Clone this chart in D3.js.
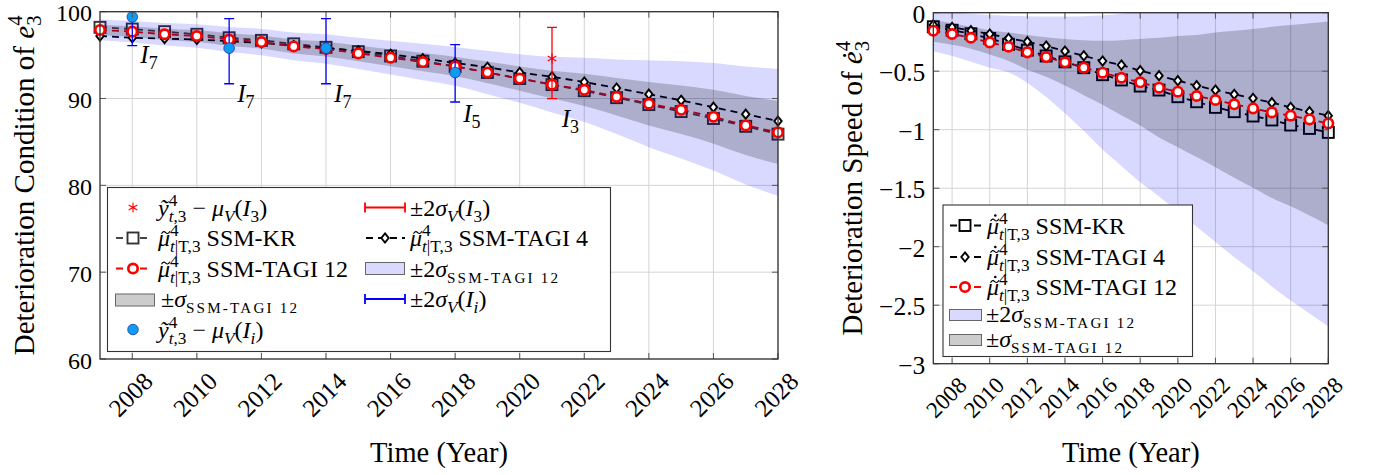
<!DOCTYPE html>
<html>
<head>
<meta charset="utf-8">
<title>Deterioration condition and speed</title>
<script src="https://d3js.org/d3.v7.min.js"></script>
<style>
  body { margin: 0; background: #fff; }
  svg { font-family: "Liberation Serif", "DejaVu Serif", serif; }
</style>
</head>
<body>
<div id="chart"></div>
<script>
// Data
const years = [2007, 2008, 2009, 2010, 2011, 2012, 2013, 2014, 2015, 2016, 2017,
               2018, 2019, 2020, 2021, 2022, 2023, 2024, 2025, 2026, 2027, 2028];

// Left panel: condition
const condKR     = [98.2, 98.0, 97.7, 97.4, 97.0, 96.7, 96.3, 95.9, 95.4, 94.9, 94.3,
                    93.7, 93.0, 92.3, 91.6, 90.9, 90.1, 89.3, 88.5, 87.7, 86.8, 85.9];
const condTagi4  = [97.2, 97.0, 96.9, 96.8, 96.6, 96.4, 96.1, 95.8, 95.5, 95.1, 94.6,
                    94.1, 93.6, 93.0, 92.5, 91.9, 91.2, 90.5, 89.8, 89.0, 88.2, 87.4];
const condTagi12 = [97.9, 97.7, 97.4, 97.2, 96.8, 96.5, 96.0, 95.7, 95.2, 94.7, 94.2,
                    93.7, 93.0, 92.3, 91.6, 91.0, 90.2, 89.4, 88.7, 87.9, 86.9, 86.1];
const condSigma  = [0.6, 0.62, 0.65, 0.68, 0.72, 0.76, 0.8, 0.85, 0.9, 0.97, 1.05,
                    1.12, 1.25, 1.4, 1.6, 1.85, 2.15, 2.5, 2.8, 3.1, 3.4, 3.65];

// inspections I_i (blue) and I_3 (red)
const obsYears  = [2008, 2011, 2014, 2018];
const obsValues = [99.4, 95.8, 95.8, 93.0];
const obsLow    = [96.1, 91.7, 91.7, 89.6];
const obsHigh   = [102.7, 99.2, 99.2, 96.2];
const i3Year = [2021];
const i3Value = [94.6];
const i3Low = [90.0];
const i3High = [98.2];

// Right panel: speed
const speedKR     = [-0.12, -0.15, -0.18, -0.22, -0.27, -0.32, -0.37, -0.42, -0.47, -0.53, -0.575,
                     -0.627, -0.661, -0.718, -0.761, -0.809, -0.846, -0.883, -0.917, -0.96, -0.989, -1.023];
const speedTagi4  = [-0.105, -0.125, -0.154, -0.182, -0.219, -0.248, -0.285, -0.328, -0.368, -0.413, -0.447,
                     -0.496, -0.538, -0.581, -0.624, -0.661, -0.698, -0.732, -0.769, -0.809, -0.846, -0.88];
const speedTagi12 = [-0.154, -0.182, -0.214, -0.254, -0.291, -0.339, -0.379, -0.424, -0.47, -0.513, -0.556,
                     -0.595, -0.641, -0.675, -0.712, -0.746, -0.783, -0.818, -0.852, -0.88, -0.912, -0.946];
const speedGrayHi = [-0.06, -0.09, -0.12, -0.15, -0.17, -0.19, -0.21, -0.225, -0.235, -0.24, -0.235,
                     -0.225, -0.215, -0.2, -0.19, -0.17, -0.155, -0.14, -0.12, -0.105, -0.09, -0.075];
const speedGrayLo = [-0.248, -0.274, -0.308, -0.358, -0.412, -0.488, -0.548, -0.623, -0.705, -0.786, -0.877,
                     -0.965, -1.067, -1.15, -1.234, -1.322, -1.411, -1.496, -1.584, -1.655, -1.734, -1.817];
const speedBlueHi = [0.03, 0.005, -0.01, -0.02, -0.025, -0.03, -0.032, -0.033, -0.03, -0.022, -0.01,
                     0.05, 0.12, 0.2, 0.28, 0.36, 0.44, 0.52, 0.6, 0.67, 0.73, 0.79];
const speedBlueLo = [-0.33, -0.37, -0.42, -0.47, -0.51, -0.6, -0.72, -0.86, -1.01, -1.17, -1.31,
                     -1.45, -1.57, -1.7, -1.83, -1.96, -2.09, -2.21, -2.34, -2.46, -2.57, -2.68];

const xTicks = [2008, 2010, 2012, 2014, 2016, 2018, 2020, 2022, 2024, 2026, 2028];
const condTicks = [60, 70, 80, 90, 100];
const speedTicks = [-3, -2.5, -2, -1.5, -1, -0.5, 0];

// Canvas
const width = 1378, height = 475;
const svg = d3.select("#chart").append("svg")
  .attr("width", width).attr("height", height);
const defs = svg.append("defs");

const RED = "#ff0000", BLUE = "#0000ff", OBS = "#0f9cf0";
const BAND_BLUE = "rgba(0,0,255,0.15)", BAND_GRAY = "rgba(0,0,0,0.2)";

// text with super/subscripts built from tspans; accents drawn as small paths
function rich(sel, segs, size) {
  let cur = 0, supW = 0, subW = 0, stacked = false, baseNode = null;
  const accents = [];
  segs.forEach(s => {
    if (s.acc) { accents.push({ kind: s.acc, node: baseNode }); return; }
    const pos = s.pos || "base";
    const off = pos === "sup" ? -0.4 * size : pos === "sub" ? 0.25 * size : 0;
    const fs = (s.fs || (pos === "base" ? 1 : 0.72)) * size;
    const sp = sel.append("tspan").attr("font-size", fs).text(s.t);
    if (off !== cur) sp.attr("dy", off - cur);
    cur = off;
    if (s.it) sp.attr("font-style", "italic");
    if (s.ls) sp.attr("letter-spacing", s.ls);
    const w = sp.node().getComputedTextLength();
    let dx = 0;
    if (s.back) { dx -= supW; stacked = true; subW = 0; }
    if (pos === "base" && stacked) { dx += Math.max(0, supW - subW); stacked = false; }
    if (dx) sp.attr("dx", dx);
    if (pos === "sup") supW += w;
    else if (pos === "sub") subW += w;
    else { supW = 0; subW = 0; baseNode = sp.node(); }
  });
  if (accents.length) {
    const parent = d3.select(sel.node().parentNode);
    const base = +sel.attr("y");
    accents.forEach(a => {
      const ext = a.node.getExtentOfChar(0);
      const cx = ext.x + ext.width / 2 + 0.07 * size;
      const ty = base - 0.56 * size;
      if (a.kind === "tilde") {
        parent.append("path")
          .attr("d", `M${cx - 4.2},${ty + 1.2} C${cx - 2.8},${ty - 1.6} ${cx - 1.2},${ty - 1.2} ${cx},${ty} S${cx + 2.8},${ty + 1.6} ${cx + 4.2},${ty - 1.2}`)
          .attr("fill", "none").attr("stroke", "#000").attr("stroke-width", 1.1);
      } else {
        parent.append("circle").attr("cx", cx + 0.6).attr("cy", ty - 4.6).attr("r", 1.3).attr("fill", "#000");
      }
    });
  }
  return sel;
}

function marker(g, type, cx, cy, color) {
  if (type === "circle") {
    g.append("circle").attr("cx", cx).attr("cy", cy).attr("r", 4.7)
      .attr("fill", "#fff").attr("stroke", color).attr("stroke-width", 2.7);
  } else if (type === "square") {
    g.append("rect").attr("x", cx - 5.5).attr("y", cy - 5.5).attr("width", 11).attr("height", 11)
      .attr("fill", "#fff").attr("stroke", color).attr("stroke-width", 1.9);
  } else if (type === "diamond") {
    g.append("path").attr("d", `M${cx},${cy - 4.6}L${cx + 3.7},${cy}L${cx},${cy + 4.6}L${cx - 3.7},${cy}Z`)
      .attr("fill", "#fff").attr("stroke", color).attr("stroke-width", 1.9);
  } else if (type === "obs") {
    g.append("circle").attr("cx", cx).attr("cy", cy).attr("r", 5.3)
      .attr("fill", OBS).attr("stroke", "#1b3fa8").attr("stroke-width", 0.8);
  } else if (type === "star") {
    g.append("path").attr("transform", `translate(${cx},${cy})`)
      .attr("d", d3.symbol(d3.symbolAsterisk, 70)())
      .attr("fill", "none").attr("stroke", color).attr("stroke-width", 1.1);
  }
}

function grid(g, x, y, yTicks) {
  const [x0, x1] = x.range(), [y0, y1] = y.range();
  g.append("g").selectAll("line").data(xTicks).join("line")
    .attr("x1", d => x(d)).attr("x2", d => x(d)).attr("y1", y0).attr("y2", y1)
    .attr("stroke", "#d4d4d4").attr("stroke-width", 1);
  g.append("g").selectAll("line").data(yTicks).join("line")
    .attr("x1", x0).attr("x2", x1).attr("y1", d => y(d)).attr("y2", d => y(d))
    .attr("stroke", "#d4d4d4").attr("stroke-width", 1);
}

function axes(g, x, y, yTicks, yFmt, opts) {
  const [x0, x1] = x.range(), [y0, y1] = y.range();
  const tk = g.append("g").attr("stroke", "#555").attr("stroke-width", 1);
  xTicks.forEach(d => {
    tk.append("line").attr("x1", x(d)).attr("x2", x(d)).attr("y1", y0).attr("y2", y0 - 6);
    tk.append("line").attr("x1", x(d)).attr("x2", x(d)).attr("y1", y1).attr("y2", y1 + 6);
  });
  yTicks.forEach(d => {
    tk.append("line").attr("x1", x0).attr("x2", x0 + 6).attr("y1", y(d)).attr("y2", y(d));
    tk.append("line").attr("x1", x1).attr("x2", x1 - 6).attr("y1", y(d)).attr("y2", y(d));
  });
  g.append("rect").attr("x", x0).attr("y", y1).attr("width", x1 - x0).attr("height", y0 - y1)
    .attr("fill", "none").attr("stroke", "#333").attr("stroke-width", 1.3);

  // y tick labels
  g.append("g").selectAll("text").data(yTicks).join("text")
    .attr("x", x0 - 8).attr("y", d => y(d) + opts.ySize * 0.4)
    .attr("text-anchor", "end").attr("font-size", opts.ySize)
    .text(yFmt);
  // x tick labels, rotated
  g.append("g").selectAll("text").data(xTicks).join("text")
    .attr("text-anchor", "end").attr("font-size", opts.xSize)
    .attr("transform", d => `translate(${x(d) + opts.dx},${y0 + opts.dy}) rotate(-45)`)
    .text(d => d);
  // axis titles
  g.append("text").attr("x", (x0 + x1) / 2).attr("y", opts.titleY)
    .attr("text-anchor", "middle").attr("font-size", 28.5).text("Time (Year)");
  rich(g.append("text").attr("text-anchor", "middle").attr("font-size", 29)
      .attr("transform", `translate(${opts.labelX},${(y0 + y1) / 2}) rotate(-90)`),
    [{ t: opts.label }, { t: opts.sym, it: true }, { t: "4", pos: "sup" }, { t: "3", pos: "sub", back: true }], 29);
}

function clip(id, x, y) {
  const [x0, x1] = x.range(), [y0, y1] = y.range();
  defs.append("clipPath").attr("id", id).append("rect")
    .attr("x", x0).attr("y", y1).attr("width", x1 - x0).attr("height", y0 - y1);
}

function dashed(g, x, y, vals, color) {
  g.append("path").datum(vals)
    .attr("d", d3.line().x((d, i) => x(years[i])).y(d => y(d)))
    .attr("fill", "none").attr("stroke", color).attr("stroke-width", 1.8)
    .attr("stroke-dasharray", "7,5");
}

function band(g, x, y, lo, hi, fill, clipId) {
  g.append("path").datum(years)
    .attr("clip-path", `url(#${clipId})`)
    .attr("d", d3.area().curve(d3.curveMonotoneX)
      .x(d => x(d)).y0((d, i) => y(lo[i])).y1((d, i) => y(hi[i])))
    .attr("fill", fill);
}

function errBar(g, x, y, yr, lo, hi, color, clipId) {
  const e = g.append("g").attr("clip-path", `url(#${clipId})`)
    .attr("stroke", color).attr("stroke-width", 1.3);
  e.append("line").attr("x1", x(yr)).attr("x2", x(yr)).attr("y1", y(lo)).attr("y2", y(hi));
  [lo, hi].forEach(v => e.append("line").attr("x1", x(yr) - 5).attr("x2", x(yr) + 5)
    .attr("y1", y(v)).attr("y2", y(v)));
}

// legend helpers
const LS = 24;
const muT = [{ t: "\u03bc", it: true }, { acc: "tilde" }, { t: "4", pos: "sup" }, { t: "t", pos: "sub", it: true, back: true }, { t: "|T,3", pos: "sub" }];
const muD = [{ t: "\u03bc", it: true }, { acc: "tilde" }, { acc: "dot" }, { t: "4", pos: "sup" }, { t: "t", pos: "sub", it: true, back: true }, { t: "|T,3", pos: "sub" }];
const yTl = [{ t: "\u1ef9", it: true }, { t: "4", pos: "sup" }, { t: "t", pos: "sub", it: true, back: true }, { t: ",3", pos: "sub" }, { t: " \u2212 " }, { t: "\u03bc", it: true }, { t: "V", pos: "sub", it: true }, { t: "(" }, { t: "I", it: true }];
const sig = n => [{ t: n ? "\u00b12" : "\u00b1" }, { t: "\u03c3", it: true }, { t: "SSM-TAGI 12", pos: "sub", fs: 0.63, ls: 2.2 }];
const sigV = k => [{ t: "\u00b12" }, { t: "\u03c3", it: true }, { t: "V", pos: "sub", it: true }, { t: "(" }, { t: "I", it: true }, { t: k, pos: "sub", it: k === "i" }, { t: ")" }];

function legText(g, x, y, segs) {
  rich(g.append("text").attr("x", x).attr("y", y).attr("font-size", LS), segs, LS);
}
function legLine(g, x0, x1, y, color) {
  g.append("line").attr("x1", x0).attr("x2", x1).attr("y1", y).attr("y2", y)
    .attr("stroke", color).attr("stroke-width", 1.8).attr("stroke-dasharray", "7,5")
    .attr("stroke-dashoffset", -1);
}
function legSwatch(g, x, y, w, h, fill) {
  g.append("rect").attr("x", x).attr("y", y).attr("width", w).attr("height", h)
    .attr("fill", fill).attr("stroke", "#666").attr("stroke-width", 1);
}
function legErr(g, x0, x1, y, color) {
  const e = g.append("g").attr("stroke", color).attr("stroke-width", 1.8);
  e.append("line").attr("x1", x0).attr("x2", x1).attr("y1", y).attr("y2", y);
  [x0, x1].forEach(v => e.append("line").attr("x1", v).attr("x2", v).attr("y1", y - 5).attr("y2", y + 5));
}

// ---------------- Left panel ----------------
const xL = d3.scaleLinear().domain([2007, 2028]).range([100, 778]);
const yL = d3.scaleLinear().domain([60, 100]).range([359, 11.7]);
clip("clipL", xL, yL);
const gL = svg.append("g");
grid(gL, xL, yL, condTicks);

dashed(gL, xL, yL, condKR, "#454545");
condKR.forEach((v, i) => marker(gL, "square", xL(years[i]), yL(v), "#333"));
dashed(gL, xL, yL, condTagi4, "#000");
dashed(gL, xL, yL, condTagi12, RED);

band(gL, xL, yL, condTagi12.map((m, i) => m - 2 * condSigma[i]),
  condTagi12.map((m, i) => m + 2 * condSigma[i]), BAND_BLUE, "clipL");
band(gL, xL, yL, condTagi12.map((m, i) => m - condSigma[i]),
  condTagi12.map((m, i) => m + condSigma[i]), BAND_GRAY, "clipL");

condTagi4.forEach((v, i) => marker(gL, "diamond", xL(years[i]), yL(v), "#000"));
condTagi12.forEach((v, i) => marker(gL, "circle", xL(years[i]), yL(v), RED));

obsYears.forEach((yr, i) => errBar(gL, xL, yL, yr, obsLow[i], obsHigh[i], BLUE, "clipL"));
obsYears.forEach((yr, i) => marker(gL, "obs", xL(yr), yL(obsValues[i])));
errBar(gL, xL, yL, i3Year[0], i3Low[0], i3High[0], RED, "clipL");
marker(gL, "star", xL(i3Year[0]), yL(i3Value[0]), RED);

// inspection labels
[[2008.25, 94.1, "7"], [2011.25, 89.6, "7"], [2014.25, 89.6, "7"], [2018.25, 87.3, "5"], [2021.3, 86.7, "3"]]
  .forEach(([yr, v, k]) => rich(gL.append("text").attr("x", xL(yr)).attr("y", yL(v)).attr("font-size", 25),
    [{ t: "I", it: true }, { t: k, pos: "sub" }], 25));

axes(gL, xL, yL, condTicks, d => d, { ySize: 24, xSize: 25, dx: 22, dy: 24, titleY: 462, labelX: 34,
  label: "Deterioration Condition of ", sym: "e" });

// left legend
const lgL = gL.append("g");
lgL.append("rect").attr("x", 107.5).attr("y", 187.5).attr("width", 503).attr("height", 164)
  .attr("fill", "#fff").attr("stroke", "#333").attr("stroke-width", 1.1);
const rowsL = [215.5, 246, 276.5, 307, 337.5];
// column 1
marker(lgL, "star", 133, rowsL[0] - 8, RED);
legText(lgL, 158, rowsL[0], [...yTl, { t: "3", pos: "sub" }, { t: ")" }]);
legLine(lgL, 115, 151, rowsL[1] - 8, "#454545");
marker(lgL, "square", 133, rowsL[1] - 8, "#333");
legText(lgL, 158, rowsL[1], [...muT, { t: " SSM-KR" }]);
legLine(lgL, 115, 151, rowsL[2] - 8, RED);
marker(lgL, "circle", 133, rowsL[2] - 8, RED);
legText(lgL, 158, rowsL[2], [...muT, { t: " SSM-TAGI 12" }]);
legSwatch(lgL, 115.5, rowsL[3] - 13, 39, 12, "#cccccc");
legText(lgL, 161, rowsL[3], sig(false));
marker(lgL, "obs", 133, rowsL[4] - 8);
legText(lgL, 158, rowsL[4], [...yTl, { t: "i", pos: "sub", it: true }, { t: ")" }]);
// column 2
legErr(lgL, 365, 405, rowsL[0] - 8, RED);
legText(lgL, 410, rowsL[0], sigV("3"));
legLine(lgL, 365, 405, rowsL[1] - 8, "#000");
marker(lgL, "diamond", 385, rowsL[1] - 8, "#000");
legText(lgL, 410, rowsL[1], [...muT, { t: " SSM-TAGI 4" }]);
legSwatch(lgL, 365.5, rowsL[2] - 14, 39, 12, "#d9d9ff");
legText(lgL, 410, rowsL[2], sig(true));
legErr(lgL, 365, 405, rowsL[3] - 8, BLUE);
legText(lgL, 410, rowsL[3], sigV("i"));

// ---------------- Right panel ----------------
const xR = d3.scaleLinear().domain([2007, 2028]).range([933.3, 1328.3]);
const yR = d3.scaleLinear().domain([-3, 0]).range([363.7, 12.7]);
clip("clipR", xR, yR);
const gR = svg.append("g");
grid(gR, xR, yR, speedTicks);

dashed(gR, xR, yR, speedKR, "#000");
speedKR.forEach((v, i) => marker(gR, "square", xR(years[i]), yR(v), "#000"));
dashed(gR, xR, yR, speedTagi4, "#000");
dashed(gR, xR, yR, speedTagi12, RED);
band(gR, xR, yR, speedBlueLo, speedBlueHi, BAND_BLUE, "clipR");
band(gR, xR, yR, speedGrayLo, speedGrayHi, BAND_GRAY, "clipR");
speedTagi4.forEach((v, i) => marker(gR, "diamond", xR(years[i]), yR(v), "#000"));
speedTagi12.forEach((v, i) => marker(gR, "circle", xR(years[i]), yR(v), RED));

axes(gR, xR, yR, speedTicks, d => d === 0 ? "0" : "\u2212" + Math.abs(d), { ySize: 25.5, xSize: 23, dx: 16, dy: 23, titleY: 462, labelX: 862,
  label: "Deterioration Speed of ", sym: "\u0117" });

// right legend
const lgR = gR.append("g");
lgR.append("rect").attr("x", 943).attr("y", 205).attr("width", 249.5).attr("height", 151.5)
  .attr("fill", "#fff").attr("stroke", "#333").attr("stroke-width", 1.1);
const rowsR = [233.5, 265, 295, 321.5, 346.5];
legLine(lgR, 949, 981, rowsR[0] - 8, "#000");
marker(lgR, "square", 965, rowsR[0] - 8, "#000");
legText(lgR, 987, rowsR[0], [...muD, { t: " SSM-KR" }]);
legLine(lgR, 949, 981, rowsR[1] - 8, "#000");
marker(lgR, "diamond", 965, rowsR[1] - 8, "#000");
legText(lgR, 987, rowsR[1], [...muD, { t: " SSM-TAGI 4" }]);
legLine(lgR, 949, 981, rowsR[2] - 8, RED);
marker(lgR, "circle", 965, rowsR[2] - 8, RED);
legText(lgR, 987, rowsR[2], [...muD, { t: " SSM-TAGI 12" }]);
legSwatch(lgR, 949.5, rowsR[3] - 12, 32, 11, "#d9d9ff");
legText(lgR, 986, rowsR[3], sig(true));
legSwatch(lgR, 949.5, rowsR[4] - 12, 32, 11, "#cccccc");
legText(lgR, 986, rowsR[4], sig(false));
</script>
</body>
</html>
